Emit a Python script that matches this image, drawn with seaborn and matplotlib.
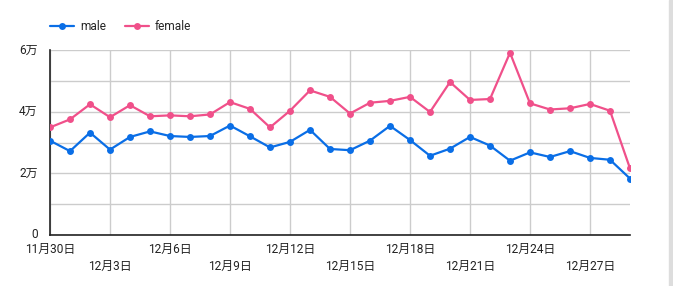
import matplotlib
matplotlib.use("Agg")
import matplotlib.pyplot as plt
import matplotlib.dates as mdates
from matplotlib.ticker import FixedLocator, MultipleLocator
from matplotlib.lines import Line2D
import seaborn as sns
import pandas as pd

dates = pd.date_range("2023-11-30", periods=30, freq="D")
male = [3.06, 2.72, 3.32, 2.77, 3.18, 3.36, 3.21, 3.18, 3.21, 3.55,
        3.20, 2.84, 3.02, 3.41, 2.79, 2.75, 3.06, 3.54, 3.08, 2.57,
        2.80, 3.18, 2.90, 2.41, 2.68, 2.53, 2.72, 2.50, 2.44, 1.83]
female = [3.49, 3.75, 4.24, 3.82, 4.21, 3.85, 3.88, 3.85, 3.91, 4.31,
          4.09, 3.49, 4.03, 4.69, 4.48, 3.94, 4.29, 4.35, 4.48, 3.99,
          4.96, 4.38, 4.41, 5.91, 4.27, 4.07, 4.11, 4.25, 4.03, 2.16]
series_names = ["male", "female"]
colors = ["#0a6ee6", "#f0508a"]
y_ticks = [0, 20000, 40000, 60000]
y_labels = ["0", "2万", "4万", "6万"]

df = pd.DataFrame({
    "date": list(dates) * 2,
    "value": [v * 10000 for v in male] + [v * 10000 for v in female],
    "series": ["male"] * 30 + ["female"] * 30,
})

sns.set_theme(style="white")
plt.rcParams["font.family"] = ["Roboto", "Noto Sans CJK JP", "DejaVu Sans"]

fig = plt.figure(figsize=(6.73, 2.86), dpi=100)
ax = fig.add_axes([50 / 673, 1 - 235 / 286, 580 / 673, 185 / 286])

sns.lineplot(data=df, x="date", y="value", hue="series", hue_order=series_names,
             palette=colors, marker="o", markersize=5, markeredgewidth=0,
             linewidth=1.6, ax=ax, legend=False, zorder=3)

ax.set_xlim(dates[0], dates[-1])
ax.set_ylim(0, 60000)
ax.yaxis.set_major_locator(FixedLocator(y_ticks))
ax.set_yticklabels(y_labels)
ax.yaxis.set_minor_locator(MultipleLocator(10000))

tick_dates = dates[::3]
ax.xaxis.set_major_locator(FixedLocator(mdates.date2num(tick_dates)))
labels = []
for i, d in enumerate(tick_dates):
    lab = f"{d.month}月{d.day}日"
    labels.append(lab if i % 2 == 0 else "\n" + lab)
ax.set_xticklabels(labels, va="top", linespacing=1.4)

ax.grid(True, which="both", color="#cccccc", linewidth=1)
ax.set_axisbelow(True)
for s in ["top", "right"]:
    ax.spines[s].set_visible(False)
for s in ["left", "bottom"]:
    ax.spines[s].set_color("#222222")
    ax.spines[s].set_linewidth(1.2)
ax.tick_params(axis="both", which="both", length=0, labelsize=8.6, colors="#222222")
ax.tick_params(axis="x", pad=6)
ax.tick_params(axis="y", pad=9)
for t in ax.get_yticklabels():
    t.set_verticalalignment("center")
ax.set_xlabel("")
ax.set_ylabel("")

handles = [Line2D([0], [0], color=c, marker="o", markersize=5, markeredgewidth=0,
                  linewidth=1.6) for c in colors]
fig.legend(handles, series_names, loc="center left", bbox_to_anchor=(50 / 673, 1 - 27 / 286),
           ncol=2, frameon=False, fontsize=8.6, handlelength=2.0, handletextpad=0.5,
           columnspacing=1.6, borderaxespad=0, borderpad=0)

fig.patches.append(plt.Rectangle((669 / 673, 0), 4 / 673, 1, transform=fig.transFigure,
                                 color="#dddddd", zorder=0))

fig.savefig("out.png", dpi=100)
